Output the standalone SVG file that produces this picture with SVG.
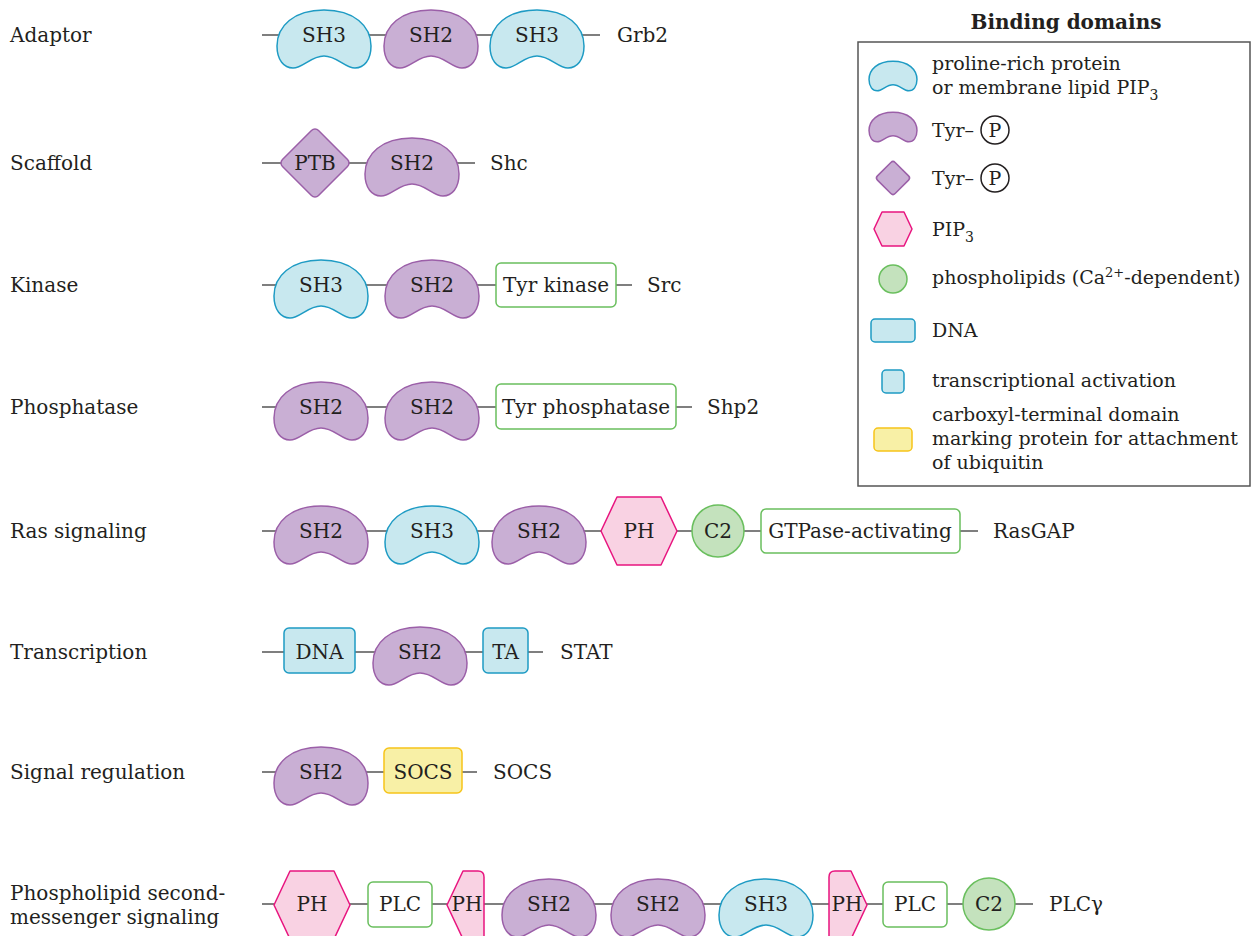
<svg xmlns="http://www.w3.org/2000/svg" xmlns:xlink="http://www.w3.org/1999/xlink" width="1251" height="936" viewBox="0 0 1251 936">
<style>
text{font-family:"DejaVu Serif","Liberation Serif",serif;font-size:20px;fill:#231f20}
.leg text{font-size:19px}
.mid{text-anchor:middle}
.bold{font-weight:bold}
.ln{stroke:#555;stroke-width:1.5;fill:none}
.blue{fill:#c8e8ef;stroke:#1e9bc4;stroke-width:1.5}
.purple{fill:#c9afd4;stroke:#9b5fa8;stroke-width:1.5}
.pink{fill:#f9d2e3;stroke:#e8157f;stroke-width:1.5;stroke-linejoin:round}
.green{fill:#c4e2bd;stroke:#6abf5e;stroke-width:1.5}
.wbox{fill:#fff;stroke:#6abf5e;stroke-width:1.5}
.yellow{fill:#f8f0a6;stroke:#f6c41a;stroke-width:1.5}
.pc{fill:none;stroke:#231f20;stroke-width:1.5}
</style>
<defs>
<path id="kid" d="M0,-25 C30,-25 47,-9 47,11 C47,25 40,33 31,33 C21,33 13,21 0,21 C-13,21 -21,33 -31,33 C-40,33 -47,25 -47,11 C-47,-9 -30,-25 0,-25 Z"/>
<polygon id="hex" points="-38,0 -22,-34 22,-34 38,0 22,34 -22,34"/>
</defs>

<g id="connectors">
<line class="ln" x1="262" y1="35" x2="600" y2="35"/>
<line class="ln" x1="262" y1="163" x2="475" y2="163"/>
<line class="ln" x1="262" y1="285" x2="632" y2="285"/>
<line class="ln" x1="262" y1="407" x2="692" y2="407"/>
<line class="ln" x1="262" y1="531" x2="978" y2="531"/>
<line class="ln" x1="262" y1="652" x2="543" y2="652"/>
<line class="ln" x1="262" y1="772" x2="477" y2="772"/>
<line class="ln" x1="262" y1="904" x2="1033" y2="904"/>
</g>

<g id="row-labels">
<text x="10" y="42">Adaptor</text>
<text x="10" y="170">Scaffold</text>
<text x="10" y="292">Kinase</text>
<text x="10" y="414">Phosphatase</text>
<text x="10" y="538">Ras signaling</text>
<text x="10" y="659">Transcription</text>
<text x="10" y="779">Signal regulation</text>
<text x="10" y="900">Phospholipid second-</text>
<text x="10" y="924">messenger signaling</text>
</g>

<g id="row-adaptor">
<g id="grb2-sh3a"><use xlink:href="#kid" href="#kid" class="blue" x="324" y="35"/><text class="mid" x="324" y="42">SH3</text></g>
<g id="grb2-sh2"><use xlink:href="#kid" href="#kid" class="purple" x="431" y="35"/><text class="mid" x="431" y="42">SH2</text></g>
<g id="grb2-sh3b"><use xlink:href="#kid" href="#kid" class="blue" x="537" y="35"/><text class="mid" x="537" y="42">SH3</text></g>
<text x="617" y="42">Grb2</text>
</g>

<g id="row-scaffold">
<g id="shc-ptb"><rect class="purple" x="-25.5" y="-25.5" width="51" height="51" rx="5" transform="translate(315,163) rotate(45)"/><text class="mid" x="315" y="170">PTB</text></g>
<g id="shc-sh2"><use xlink:href="#kid" href="#kid" class="purple" x="412" y="163"/><text class="mid" x="412" y="170">SH2</text></g>
<text x="490" y="170">Shc</text>
</g>

<g id="row-kinase">
<g id="src-sh3"><use xlink:href="#kid" href="#kid" class="blue" x="321" y="285"/><text class="mid" x="321" y="292">SH3</text></g>
<g id="src-sh2"><use xlink:href="#kid" href="#kid" class="purple" x="432" y="285"/><text class="mid" x="432" y="292">SH2</text></g>
<g id="src-kinase"><rect class="wbox" x="496" y="263" width="120" height="44" rx="5"/><text class="mid" x="556" y="292">Tyr kinase</text></g>
<text x="647" y="292">Src</text>
</g>

<g id="row-phosphatase">
<g id="shp2-sh2a"><use xlink:href="#kid" href="#kid" class="purple" x="321" y="407"/><text class="mid" x="321" y="414">SH2</text></g>
<g id="shp2-sh2b"><use xlink:href="#kid" href="#kid" class="purple" x="432" y="407"/><text class="mid" x="432" y="414">SH2</text></g>
<g id="shp2-phos"><rect class="wbox" x="496" y="384" width="180" height="45" rx="5"/><text class="mid" x="586" y="414">Tyr phosphatase</text></g>
<text x="707" y="414">Shp2</text>
</g>

<g id="row-ras">
<g id="ras-sh2a"><use xlink:href="#kid" href="#kid" class="purple" x="321" y="531"/><text class="mid" x="321" y="538">SH2</text></g>
<g id="ras-sh3"><use xlink:href="#kid" href="#kid" class="blue" x="432" y="531"/><text class="mid" x="432" y="538">SH3</text></g>
<g id="ras-sh2b"><use xlink:href="#kid" href="#kid" class="purple" x="539" y="531"/><text class="mid" x="539" y="538">SH2</text></g>
<g id="ras-ph"><use xlink:href="#hex" href="#hex" class="pink" x="639" y="531"/><text class="mid" x="639" y="538">PH</text></g>
<g id="ras-c2"><circle class="green" cx="718" cy="531" r="26"/><text class="mid" x="718" y="538">C2</text></g>
<g id="ras-gap"><rect class="wbox" x="761" y="509" width="199" height="44" rx="5"/><text class="mid" x="860" y="538">GTPase-activating</text></g>
<text x="993" y="538">RasGAP</text>
</g>

<g id="row-transcription">
<g id="stat-dna"><rect class="blue" x="284" y="628" width="71" height="45" rx="5"/><text class="mid" x="319.5" y="659">DNA</text></g>
<g id="stat-sh2"><use xlink:href="#kid" href="#kid" class="purple" x="420" y="652"/><text class="mid" x="420" y="659">SH2</text></g>
<g id="stat-ta"><rect class="blue" x="483" y="628" width="45" height="45" rx="5"/><text class="mid" x="505.5" y="659">TA</text></g>
<text x="560" y="659">STAT</text>
</g>

<g id="row-regulation">
<g id="socs-sh2"><use xlink:href="#kid" href="#kid" class="purple" x="321" y="772"/><text class="mid" x="321" y="779">SH2</text></g>
<g id="socs-box"><rect class="yellow" x="384" y="748" width="78" height="45" rx="5"/><text class="mid" x="423" y="779">SOCS</text></g>
<text x="493" y="779">SOCS</text>
</g>

<g id="row-phospholipid">
<g id="plc-ph1"><use xlink:href="#hex" href="#hex" class="pink" x="312" y="905"/><text class="mid" x="312" y="911">PH</text></g>
<g id="plc-plc1"><rect class="wbox" x="368" y="882" width="64" height="45" rx="5"/><text class="mid" x="400" y="911">PLC</text></g>
<g id="plc-ph2"><path class="pink" d="M484,877 Q484,871 478,871 L463,871 L447,905 L463,939 L484,939 Z"/><text class="mid" x="467" y="911">PH</text></g>
<g id="plc-sh2a"><use xlink:href="#kid" href="#kid" class="purple" x="549" y="904"/><text class="mid" x="549" y="911">SH2</text></g>
<g id="plc-sh2b"><use xlink:href="#kid" href="#kid" class="purple" x="658" y="904"/><text class="mid" x="658" y="911">SH2</text></g>
<g id="plc-sh3"><use xlink:href="#kid" href="#kid" class="blue" x="766" y="904"/><text class="mid" x="766" y="911">SH3</text></g>
<g id="plc-ph3"><path class="pink" d="M829,877 Q829,871 835,871 L851,871 L867,905 L851,939 L829,939 Z"/><text class="mid" x="847" y="911">PH</text></g>
<g id="plc-plc2"><rect class="wbox" x="883" y="882" width="64" height="45" rx="5"/><text class="mid" x="915" y="911">PLC</text></g>
<g id="plc-c2"><circle class="green" cx="989" cy="904" r="26"/><text class="mid" x="989" y="911">C2</text></g>
<text x="1049" y="911">PLCγ</text>
</g>

<g id="legend" class="leg">
<text class="mid bold" x="1066" y="29" style="font-size:20px">Binding domains</text>
<rect x="858" y="42" width="392" height="444" fill="#fff" stroke="#555" stroke-width="1.5"/>
<g id="leg-sh3"><use xlink:href="#kid" href="#kid" class="blue" transform="translate(893,74) scale(0.51)" style="stroke-width:2.9"/>
<text x="932" y="70">proline-rich protein</text><text x="932" y="94">or membrane lipid PIP<tspan dy="6" font-size="14">3</tspan></text></g>
<g id="leg-sh2"><use xlink:href="#kid" href="#kid" class="purple" transform="translate(893,125) scale(0.51)" style="stroke-width:2.9"/>
<text x="932" y="137">Tyr–</text><circle class="pc" cx="995" cy="130" r="14"/><text class="mid" x="995" y="137">P</text></g>
<g id="leg-ptb"><rect class="purple" x="-12.5" y="-12.5" width="25" height="25" rx="3" transform="translate(893,178) rotate(45)"/>
<text x="932" y="185">Tyr–</text><circle class="pc" cx="995" cy="178" r="14"/><text class="mid" x="995" y="185">P</text></g>
<g id="leg-ph"><polygon class="pink" points="874,229 882,212 904,212 912,229 904,246 882,246"/>
<text x="932" y="236">PIP<tspan dy="6" font-size="14">3</tspan></text></g>
<g id="leg-c2"><circle class="green" cx="893" cy="279" r="14"/>
<text x="932" y="284">phospholipids (Ca<tspan dy="-7" font-size="13">2+</tspan><tspan dy="7">-dependent)</tspan></text></g>
<g id="leg-dna"><rect class="blue" x="871" y="319" width="44" height="23" rx="4"/><text x="932" y="337">DNA</text></g>
<g id="leg-ta"><rect class="blue" x="882" y="370" width="22" height="23" rx="4"/><text x="932" y="387">transcriptional activation</text></g>
<g id="leg-socs"><rect class="yellow" x="874" y="428" width="38" height="23" rx="4"/>
<text x="932" y="421">carboxyl-terminal domain</text><text x="932" y="445">marking protein for attachment</text><text x="932" y="469">of ubiquitin</text></g>
</g>
</svg>
